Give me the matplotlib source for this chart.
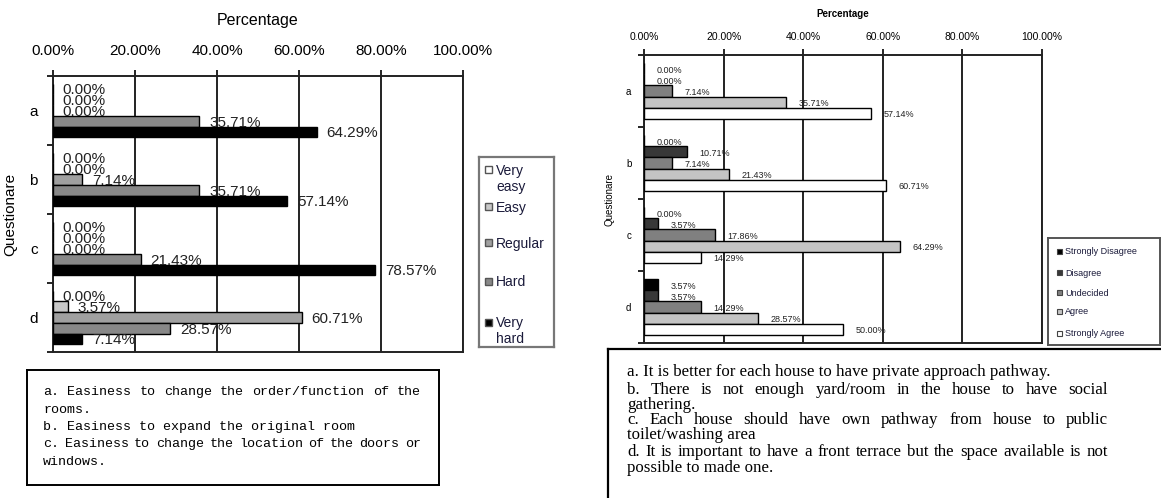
import numpy as np
import matplotlib
matplotlib.use('Agg')
import matplotlib.pyplot as plt
from matplotlib.patches import Rectangle

# ---- data ----
questions = ['a', 'b', 'c', 'd']

left_series = ['Very easy', 'Easy', 'Regular', 'Hard', 'Very hard']
left_legend_text = ['Very\neasy', 'Easy', 'Regular', 'Hard', 'Very\nhard']
left_colors = ['#ffffff', '#c8c8c8', '#a0a0a0', '#888888', '#000000']
very_easy = [0.00, 0.00, 0.00, 0.00]
easy = [0.00, 0.00, 0.00, 3.57]
regular = [0.00, 7.14, 0.00, 60.71]
hard = [35.71, 35.71, 21.43, 28.57]
very_hard = [64.29, 57.14, 78.57, 7.14]
left_values = [very_easy, easy, regular, hard, very_hard]

right_series = ['Strongly Disagree', 'Disagree', 'Undecided', 'Agree', 'Strongly Agree']
right_colors = ['#000000', '#383838', '#808080', '#c4c4c4', '#ffffff']
strongly_disagree = [0.00, 0.00, 0.00, 3.57]
disagree = [0.00, 10.71, 3.57, 3.57]
undecided = [7.14, 7.14, 17.86, 14.29]
agree = [35.71, 21.43, 64.29, 28.57]
strongly_agree = [57.14, 60.71, 14.29, 50.00]
right_values = [strongly_disagree, disagree, undecided, agree, strongly_agree]

x_ticks = [0, 20, 40, 60, 80, 100]

left_notes = [
    ('a. Easiness to change the order/function of the', True),
    ('rooms.', False),
    ('b. Easiness to expand the original room', False),
    ('c. Easiness to change the location of the doors or', True),
    ('windows.', False),
]
right_notes = [
    ('a. It is better for each house to have private approach pathway.', False),
    ('b. There is not enough yard/room in the house to have social', True),
    ('gathering.', False),
    ('c. Each house should have own pathway from house to public', True),
    ('toilet/washing area', False),
    ('d. It is important to have a front terrace but the space available is not', True),
    ('possible to made one.', False),
]

W, H = 1161, 498
fig = plt.figure(figsize=(W / 100, H / 100), dpi=100)
fig.patch.set_facecolor('white')


def px(x0, y0, x1, y1):
    return [x0 / W, 1 - y1 / H, (x1 - x0) / W, (y1 - y0) / H]


def bar_chart(ax, values, colors, tick_fs, lab_fs, title_fs, cat_fs, pads):
    n = len(values)
    h = 0.155
    base = np.arange(len(questions)) + 0.5
    for j, (vals, col) in enumerate(zip(values, colors)):
        ypos = base + (j - (n - 1) / 2) * h
        ax.barh(ypos, vals, height=h, color=col, edgecolor='black', lw=1.0, zorder=3)
        for y, v in zip(ypos, vals):
            ax.annotate(f'{v:.2f}%', (v, y), xytext=(pads['lab'], -1),
                        textcoords='offset points', ha='left', va='center',
                        fontsize=lab_fs, color='#222222', zorder=4)
    ax.set_xlim(0, 100)
    ax.set_ylim(len(questions), 0)
    ax.xaxis.tick_top()
    ax.xaxis.set_label_position('top')
    ax.set_xticks(x_ticks)
    ax.set_xticklabels([f'{t:.2f}%' for t in x_ticks], fontsize=tick_fs)
    ax.tick_params(axis='x', length=4, width=1.2, pad=pads['xtick'], direction='out')
    ax.set_yticks(np.arange(len(questions) + 1))
    ax.set_yticklabels([])
    ax.set_yticks(base, minor=True)
    ax.set_yticklabels(questions, minor=True, fontsize=cat_fs)
    ax.tick_params(axis='y', which='major', length=4, width=1.2, direction='out')
    ax.tick_params(axis='y', which='minor', length=0, pad=pads['ytick'])
    ax.grid(axis='x', color='#222222', lw=1.4, zorder=1)
    for s in ax.spines.values():
        s.set_color('#222222')
        s.set_linewidth(1.4)
    ax.set_xlabel('Percentage', fontsize=title_fs, labelpad=pads['xlab'])
    ax.set_ylabel('Questionare', fontsize=cat_fs)
    ax.yaxis.set_label_coords(pads['ylab'], 0.5)


def place_line(x0, x1, y, text, justify, **kw):
    # y and x in pixels from the top-left corner
    if not justify:
        fig.text(x0 / W, 1 - y / H, text, va='center', ha='left', **kw)
        return
    renderer = fig.canvas.get_renderer()
    words = text.split()
    widths = []
    for w in words:
        t = fig.text(0, 0, w, **kw)
        widths.append(t.get_window_extent(renderer).width)
        t.remove()
    gap = (x1 - x0 - sum(widths)) / (len(words) - 1)
    x = x0
    for w, wd in zip(words, widths):
        fig.text(x / W, 1 - y / H, w, va='center', ha='left', **kw)
        x += wd + gap


plt.rcParams['font.family'] = ['Liberation Sans', 'DejaVu Sans']

# ---- left chart ----
axl = fig.add_axes(px(53, 76, 463, 352))
bar_chart(axl, left_values, left_colors, tick_fs=11, lab_fs=11, title_fs=11.5, cat_fs=11,
          pads={'lab': 7, 'xtick': 9, 'ytick': 11, 'xlab': 14, 'ylab': -0.088})

legl = fig.add_axes(px(479, 157, 554, 347))
legl.set_xlim(0, 75)
legl.set_ylim(190, 0)
legl.set_xticks([])
legl.set_yticks([])
for s in legl.spines.values():
    s.set_color('#777777')
    s.set_linewidth(1.6)
ly = [13, 50, 86, 124, 165]
for lab, col, y in zip(left_legend_text, left_colors, ly):
    legl.add_patch(Rectangle((6, y - 3.5), 7, 7, facecolor=col, edgecolor='#555555', lw=1))
    legl.text(17, y - 6, lab, ha='left', va='top', fontsize=10, color='#1a1a3a', linespacing=1.15)

boxl = fig.add_axes(px(27, 370, 439, 485))
boxl.set_xticks([])
boxl.set_yticks([])
for s in boxl.spines.values():
    s.set_color('black')
    s.set_linewidth(1.4)
lys = [392, 410, 427, 444, 462]
for (txt, just), y in zip(left_notes, lys):
    place_line(43, 421, y, txt, just, fontsize=9.6, family='Liberation Mono', color='black')

# ---- right chart ----
axr = fig.add_axes(px(644, 55, 1042, 343))
bar_chart(axr, right_values, right_colors, tick_fs=7.5, lab_fs=6.5, title_fs=7, cat_fs=7,
          pads={'lab': 9, 'xtick': 5, 'ytick': 9, 'xlab': 11, 'ylab': -0.075})
axr.xaxis.label.set_fontweight('bold')

legr = fig.add_axes(px(1048, 238, 1160, 345))
legr.set_xlim(0, 112)
legr.set_ylim(107, 0)
legr.set_xticks([])
legr.set_yticks([])
for s in legr.spines.values():
    s.set_color('#555555')
    s.set_linewidth(1.4)
ry = [14, 35, 55, 74, 96]
for lab, col, y in zip(right_series, right_colors, ry):
    legr.add_patch(Rectangle((9, y - 3), 5, 5, facecolor=col, edgecolor='#444444', lw=0.8))
    legr.text(17, y, lab, ha='left', va='center', fontsize=6.5, color='#1a1a3a')

boxr = fig.add_axes(px(608, 349, 1175, 510))
boxr.set_xticks([])
boxr.set_yticks([])
for s in boxr.spines.values():
    s.set_color('black')
    s.set_linewidth(1.6)
rys = [372, 390, 405, 420, 435, 452, 468]
for (txt, just), y in zip(right_notes, rys):
    place_line(627, 1108, y, txt, just, fontsize=12.2, family='Liberation Serif', color='black')

fig.savefig('out.png', dpi=100)
